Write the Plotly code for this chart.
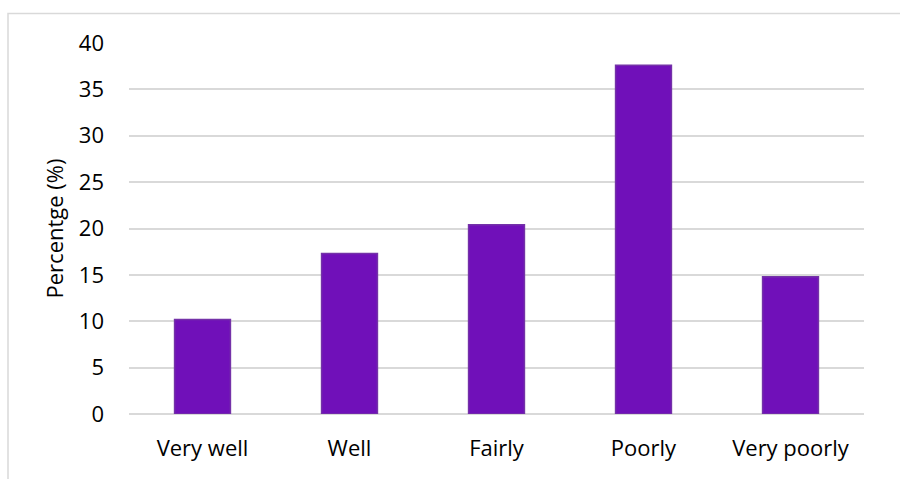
import plotly.graph_objects as go

categories = ["Very well", "Well", "Fairly", "Poorly", "Very poorly"]
percentages = [10.2, 17.3, 20.4, 37.6, 14.8]
y_ticks = [0, 5, 10, 15, 20, 25, 30, 35, 40]

W, H = 900, 479
left, right, top, bottom = 129, 36, 43, 65
plot_w = W - left - right
plot_h = H - top - bottom

fig = go.Figure(
    go.Bar(
        x=categories,
        y=percentages,
        marker=dict(color="#7010B9", line=dict(color="#7432A8", width=1.5)),
        hoverinfo="x+y",
    )
)

# outer chart frame (light grey), running off the right and bottom edges
fx0 = (8 - left) / plot_w
fx1 = (W + 5 - left) / plot_w
fy0 = -(bottom + 5) / plot_h
fy1 = (H - bottom - 13.5) / plot_h
fig.add_shape(type="rect", xref="paper", yref="paper",
              x0=fx0, x1=fx1, y0=fy0, y1=fy1,
              line=dict(color="#D9D9D9", width=1.5), fillcolor="rgba(0,0,0,0)",
              layer="below")

font_family = "Open Sans, Lato, sans-serif"
fs = 22

fig.update_layout(
    width=W, height=H,
    margin=dict(l=left, r=right, t=top, b=bottom, pad=0),
    paper_bgcolor="white",
    plot_bgcolor="white",
    bargap=0.62,
    showlegend=False,
    font=dict(family=font_family, size=fs, color="#000000"),
    xaxis=dict(
        showgrid=False,
        showline=False,
        zeroline=False,
        ticks="",
        ticklabelstandoff=19,
        tickfont=dict(size=fs),
    ),
    yaxis=dict(
        range=[0, 40],
        tickvals=y_ticks,
        showgrid=True,
        gridcolor="#D9D9D9",
        gridwidth=1.6,
        zeroline=True,
        zerolinecolor="#D9D9D9",
        zerolinewidth=1.6,
        showline=False,
        ticks="",
        ticklabelstandoff=24,
        tickfont=dict(size=fs),
        title=dict(text="Percentge (%)", font=dict(size=fs), standoff=9),
    ),
)

fig.write_html("out.html")
